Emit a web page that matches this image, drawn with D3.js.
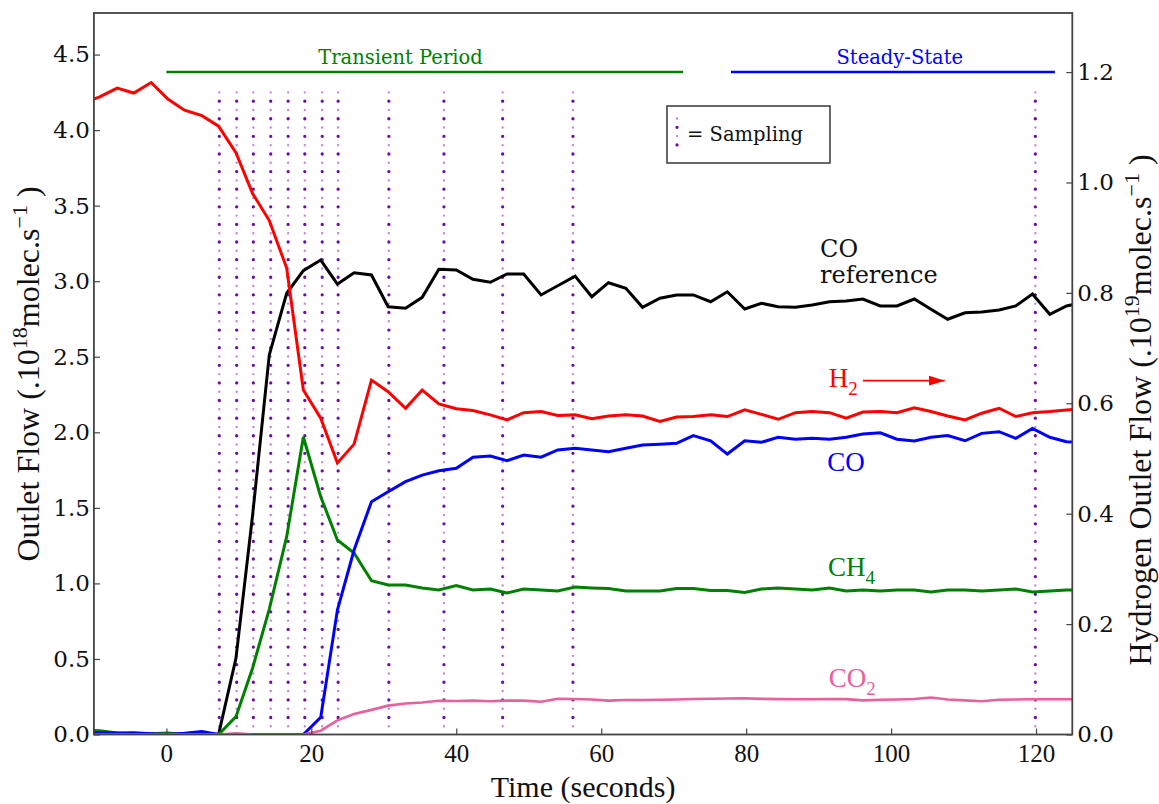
<!DOCTYPE html>
<html>
<head>
<meta charset="utf-8">
<script src="https://cdn.jsdelivr.net/npm/d3@7/dist/d3.min.js"></script>
<style>
  html, body { margin: 0; padding: 0; background: #fff; }
  svg { display: block; }
</style>
</head>
<body>
<svg id="chart" width="1159" height="804"></svg>
<script>
// Sample times (s)
const time = [-11.5, -9.2, -6.8, -4.5, -2.1, 0.2, 2.5, 4.9, 7.2, 9.6,
  11.9, 14.2, 16.6, 18.9, 21.3, 23.6, 25.9, 28.3, 30.6, 33.0,
  35.3, 37.6, 40.0, 42.3, 44.7, 47.0, 49.3, 51.7, 54.0, 56.4,
  58.7, 61.0, 63.4, 65.7, 68.1, 70.4, 72.7, 75.1, 77.4, 79.8,
  82.1, 84.4, 86.8, 89.1, 91.5, 93.8, 96.1, 98.5, 100.8, 103.2,
  105.5, 107.8, 110.2, 112.5, 114.9, 117.2, 119.5, 121.9, 124.2, 126.6];

// Hydrogen outlet flow (1e19 molec/s, right axis)
const h2 = [1.144, 1.155, 1.171, 1.162, 1.181, 1.151, 1.131, 1.121, 1.102, 1.054,
  0.980, 0.931, 0.845, 0.624, 0.573, 0.492, 0.526, 0.642, 0.621, 0.591,
  0.624, 0.599, 0.590, 0.587, 0.579, 0.570, 0.583, 0.585, 0.578, 0.579,
  0.572, 0.577, 0.579, 0.577, 0.567, 0.575, 0.576, 0.579, 0.576, 0.588,
  0.580, 0.571, 0.583, 0.585, 0.583, 0.573, 0.584, 0.585, 0.583, 0.592,
  0.585, 0.577, 0.570, 0.582, 0.591, 0.576, 0.583, 0.585, 0.588, 0.590];

// CO reference flow (1e18 molec/s, left axis)
const coRef = [0, 0, 0, 0, 0, 0, 0, 0, 0, 0.504,
  1.453, 2.512, 2.920, 3.070, 3.140, 2.981, 3.056, 3.041, 2.831, 2.821,
  2.893, 3.079, 3.074, 3.013, 2.993, 3.048, 3.048, 2.909, 2.970, 3.034,
  2.897, 2.990, 2.953, 2.827, 2.887, 2.909, 2.909, 2.864, 2.930, 2.816,
  2.854, 2.831, 2.827, 2.843, 2.864, 2.869, 2.882, 2.836, 2.836, 2.882,
  2.814, 2.748, 2.791, 2.796, 2.809, 2.836, 2.915, 2.781, 2.836, 2.860];

// CH4 outlet flow (1e18 molec/s)
const ch4 = [0.030, 0.025, 0.010, 0.000, 0.005, 0.010, 0.000, 0.010, 0.000, 0.118,
  0.440, 0.830, 1.309, 1.969, 1.574, 1.287, 1.201, 1.018, 0.989, 0.989,
  0.970, 0.956, 0.985, 0.956, 0.963, 0.937, 0.963, 0.956, 0.950, 0.976,
  0.970, 0.966, 0.950, 0.950, 0.950, 0.966, 0.966, 0.953, 0.953, 0.940,
  0.963, 0.970, 0.963, 0.956, 0.970, 0.950, 0.956, 0.950, 0.956, 0.956,
  0.943, 0.956, 0.956, 0.950, 0.956, 0.963, 0.943, 0.950, 0.956, 0.956];

// CO outlet flow (1e18 molec/s)
const co = [0.010, 0.012, 0.010, 0.012, 0.005, 0.000, 0.008, 0.020, 0.000, 0.000,
  0.000, 0.000, 0.000, 0.000, 0.114, 0.824, 1.221, 1.541, 1.607, 1.673,
  1.717, 1.746, 1.762, 1.835, 1.843, 1.812, 1.850, 1.835, 1.883, 1.894,
  1.883, 1.872, 1.894, 1.916, 1.921, 1.927, 1.978, 1.944, 1.856, 1.944,
  1.934, 1.967, 1.954, 1.960, 1.954, 1.967, 1.989, 1.997, 1.954, 1.942,
  1.967, 1.978, 1.944, 1.993, 2.004, 1.960, 2.026, 1.967, 1.938, 1.930];

// CO2 outlet flow (1e18 molec/s)
const co2 = [0, 0, 0, 0, 0, 0, 0, 0, 0, 0.008,
  0, 0, 0, 0, 0.025, 0.094, 0.136, 0.163, 0.191, 0.205,
  0.212, 0.223, 0.222, 0.224, 0.220, 0.224, 0.224, 0.217, 0.236, 0.235,
  0.232, 0.224, 0.228, 0.228, 0.230, 0.232, 0.235, 0.237, 0.238, 0.240,
  0.236, 0.234, 0.233, 0.233, 0.235, 0.234, 0.226, 0.230, 0.232, 0.235,
  0.245, 0.232, 0.226, 0.220, 0.230, 0.232, 0.233, 0.233, 0.233, 0.233];

// Sampling instants (s)
const samplingTimes = [7.3, 9.7, 12.0, 14.4, 16.8, 19.1, 21.5, 23.7, 30.7, 38.3, 46.4, 56.1, 119.9];

// Tick values
const xTicks = [0, 20, 40, 60, 80, 100, 120];
const leftTicks = [0, 0.5, 1.0, 1.5, 2.0, 2.5, 3.0, 3.5, 4.0, 4.5];
const rightTicks = [0, 0.2, 0.4, 0.6, 0.8, 1.0, 1.2];

// Period annotations
const periods = [
  {label: "Transient Period", start: 0, end: 71.3, textAt: 32.3, color: "#008000"},
  {label: "Steady-State", start: 77.9, end: 122.6, textAt: 101.2, color: "#0000ff"}
];

const W = 1159, H = 804;
const L = 93.9, R = 1072.3, T = 13, B = 734.5;

const svg = d3.select("#chart");
svg.append("rect").attr("width", W).attr("height", H).attr("fill", "#fff");

const x = d3.scaleLinear().domain([-10, 125]).range([L, R]);
const yL = d3.scaleLinear().domain([0, 4.775]).range([B, T]);
const yR = d3.scaleLinear().domain([0, 1.307]).range([B, T]);

const defs = svg.append("defs");
defs.append("clipPath").attr("id", "plotclip")
  .append("rect").attr("x", L).attr("y", T).attr("width", R - L).attr("height", B - T);

// Sampling markers: alternating strong / faint dots
function dottedLine(g, x1, y1, x2, y2) {
  g.append("line")
    .attr("x1", x1).attr("x2", x2).attr("y1", y1).attr("y2", y2)
    .attr("stroke", "#c08ade").attr("stroke-width", 2.4)
    .attr("stroke-linecap", "round").attr("stroke-dasharray", "0.01 17.6");
  g.append("line")
    .attr("x1", x1).attr("x2", x2).attr("y1", y1).attr("y2", y2)
    .attr("stroke", "#6a0ca8").attr("stroke-width", 3.3)
    .attr("stroke-linecap", "round").attr("stroke-dasharray", "0.01 17.6")
    .attr("stroke-dashoffset", 8.8);
}
const samp = svg.append("g").attr("clip-path", "url(#plotclip)");
samplingTimes.forEach(t => dottedLine(samp, x(t), yL(4.25), x(t), yL(0)));

// Data lines
const plot = svg.append("g").attr("clip-path", "url(#plotclip)");
const lineL = d3.line().x((d, i) => x(time[i])).y(d => yL(d));
const lineR = d3.line().x((d, i) => x(time[i])).y(d => yR(d));
const series = [
  {values: coRef, color: "#000000", gen: lineL, w: 3},
  {values: ch4, color: "#008000", gen: lineL, w: 3},
  {values: co, color: "#0000ff", gen: lineL, w: 3},
  {values: co2, color: "#e8609c", gen: lineL, w: 2.6},
  {values: h2, color: "#ff0000", gen: lineR, w: 3}
];
series.forEach(s => {
  plot.append("path").datum(s.values)
    .attr("d", s.gen)
    .attr("fill", "none").attr("stroke", s.color)
    .attr("stroke-width", s.w).attr("stroke-linejoin", "miter");
});

// Axes
const tickColor = "#444";
const gx = svg.append("g").attr("transform", `translate(0,${B})`)
  .call(d3.axisBottom(x).tickValues(xTicks).tickFormat(d3.format("d"))
    .tickSizeInner(-6).tickSizeOuter(0).tickPadding(10));
gx.select(".domain").remove();
gx.selectAll(".tick line").attr("stroke", tickColor).attr("stroke-width", 1.2);
gx.selectAll(".tick text").attr("font-family", "Liberation Serif").attr("font-size", 25)
  .attr("fill", "#111");

const gl = svg.append("g").attr("transform", `translate(${L},0)`)
  .call(d3.axisLeft(yL).tickValues(leftTicks).tickFormat(d3.format(".1f"))
    .tickSizeInner(-6).tickSizeOuter(0).tickPadding(4));
gl.select(".domain").remove();
gl.selectAll(".tick line").attr("stroke", tickColor).attr("stroke-width", 1.2);
gl.selectAll(".tick text").attr("font-family", "DejaVu Serif").attr("font-size", 23)
  .attr("fill", "#111");

const gr = svg.append("g").attr("transform", `translate(${R},0)`)
  .call(d3.axisRight(yR).tickValues(rightTicks).tickFormat(d3.format(".1f"))
    .tickSizeInner(-6).tickSizeOuter(0).tickPadding(5));
gr.select(".domain").remove();
gr.selectAll(".tick line").attr("stroke", tickColor).attr("stroke-width", 1.2);
gr.selectAll(".tick text").attr("font-family", "DejaVu Serif").attr("font-size", 23)
  .attr("fill", "#111");

// Frame
svg.append("rect").attr("x", L).attr("y", T).attr("width", R - L).attr("height", B - T)
  .attr("fill", "none").attr("stroke", "#444").attr("stroke-width", 1.8);

// Axis titles
svg.append("text").attr("x", (L + R) / 2).attr("y", 797)
  .attr("text-anchor", "middle").attr("font-family", "Liberation Serif").attr("font-size", 30)
  .attr("fill", "#111").text("Time (seconds)");

function flowTitle(prefix, exp, cx, cy) {
  const t = svg.append("text")
    .attr("transform", `translate(${cx},${cy}) rotate(-90)`)
    .attr("text-anchor", "middle").attr("font-family", "Liberation Serif")
    .attr("font-size", 32).attr("fill", "#111");
  t.append("tspan").text(prefix + " (.10");
  t.append("tspan").attr("dy", -12).attr("font-size", 22).text(exp);
  t.append("tspan").attr("dy", 12).text("molec.s");
  t.append("tspan").attr("dy", -12).attr("font-size", 22).text("\u22121");
  t.append("tspan").attr("dy", 12).text(" )");
}
flowTitle("Outlet Flow", "18", 39, 374);
flowTitle("Hydrogen Outlet Flow", "19", 1151, 410);

// Period annotations
periods.forEach(p => {
  svg.append("line").attr("x1", x(p.start)).attr("x2", x(p.end))
    .attr("y1", yL(4.385)).attr("y2", yL(4.385))
    .attr("stroke", p.color).attr("stroke-width", 2.5);
  svg.append("text").attr("x", x(p.textAt)).attr("y", yL(4.437))
    .attr("text-anchor", "middle").attr("font-family", "DejaVu Serif")
    .attr("font-size", 19.5).attr("fill", p.color).text(p.label);
});

// Sampling legend
const lg = svg.append("g");
lg.append("rect").attr("x", 667).attr("y", 106).attr("width", 163).attr("height", 57)
  .attr("fill", "#fff").attr("stroke", "#444").attr("stroke-width", 1.6);
dottedLine(lg, 677, 118.5, 677, 146);
lg.append("text").attr("x", 687).attr("y", 141).attr("font-family", "DejaVu Serif")
  .attr("font-size", 19.5).attr("fill", "#111").text("= Sampling");

// Series labels
svg.append("text").attr("x", x(90.2)).attr("y", yL(3.162)).attr("font-family", "DejaVu Serif")
  .attr("font-size", 24).attr("fill", "#111").text("CO");
svg.append("text").attr("x", x(90.2)).attr("y", yL(2.99)).attr("font-family", "DejaVu Serif")
  .attr("font-size", 24).attr("fill", "#111").text("reference");

function chem(base, sub, t, yv, color) {
  const el = svg.append("text").attr("x", x(t)).attr("y", yv)
    .attr("font-family", "Liberation Serif").attr("font-size", 27).attr("fill", color);
  el.append("tspan").text(base);
  if (sub) el.append("tspan").attr("dy", 8).attr("font-size", 19).text(sub);
  return el;
}
chem("H", "2", 91.4, yR(0.63), "#ff0000");
chem("CO", null, 91.2, yL(1.744), "#0000ff");
chem("CH", "4", 91.3, yL(1.049), "#008000");
chem("CO", "2", 91.4, yL(0.316), "#e8609c");

// Arrow pointing to the right-hand axis
defs.append("marker").attr("id", "arrowhead")
  .attr("viewBox", "0 0 16 10").attr("refX", 16).attr("refY", 5)
  .attr("markerWidth", 16).attr("markerHeight", 10).attr("markerUnits", "userSpaceOnUse")
  .attr("orient", "auto")
  .append("path").attr("d", "M0,0 L16,5 L0,10 Z").attr("fill", "#ff0000");
svg.append("line").attr("x1", x(96.1)).attr("x2", x(107.4))
  .attr("y1", yR(0.641)).attr("y2", yR(0.641))
  .attr("stroke", "#ff0000").attr("stroke-width", 1.6)
  .attr("marker-end", "url(#arrowhead)");
</script>
</body>
</html>
